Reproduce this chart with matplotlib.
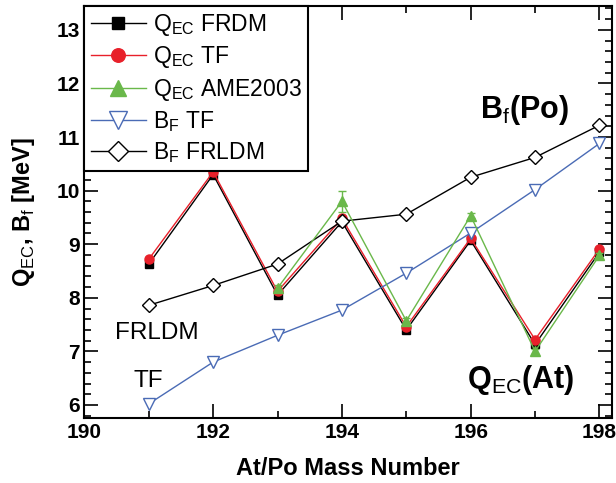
import matplotlib.pyplot as plt
from matplotlib.ticker import MultipleLocator

plt.rcParams['font.family'] = ['Liberation Sans', 'DejaVu Sans']
plt.rcParams['mathtext.fontset'] = 'custom'
plt.rcParams['mathtext.rm'] = 'Liberation Sans'
plt.rcParams['mathtext.bf'] = 'Liberation Sans:bold'

# Mass numbers
mass = [191, 192, 193, 194, 195, 196, 197, 198]

# Q_EC values for At
qec_frdm = [8.63, 10.30, 8.05, 9.42, 7.40, 9.07, 7.13, 8.85]
qec_tf = [8.72, 10.35, 8.12, 9.48, 7.46, 9.11, 7.22, 8.91]
mass_ame = [193, 194, 195, 196, 197, 198]
qec_ame = [8.18, 9.80, 7.57, 9.53, 7.00, 8.79]
qec_ame_err = [0.05, 0.20, 0.05, 0.05, 0.05, 0.05]

# Fission barriers for Po
bf_tf = [6.02, 6.80, 7.30, 7.77, 8.46, 9.21, 10.02, 10.88]
bf_frldm = [7.86, 8.23, 8.63, 9.43, 9.56, 10.25, 10.62, 11.22]

fig = plt.figure(figsize=(6.16, 4.83), dpi=100)
ax = fig.add_axes([0.137, 0.135, 0.857, 0.853])

h1, = ax.plot(mass, qec_frdm, '-s', color='black', lw=1, ms=6, label=r'Q$_{\mathrm{EC}}$ FRDM')
h2, = ax.plot(mass, qec_tf, '-o', color='#e8202a', lw=1, ms=6.5, label=r'Q$_{\mathrm{EC}}$ TF')
eb = ax.errorbar(mass_ame, qec_ame, yerr=qec_ame_err, fmt='-^', color='#6ab84a', lw=1, ms=7.5,
                 capsize=3, elinewidth=1)
h3 = eb[0]
h3.set_label(r'Q$_{\mathrm{EC}}$ AME2003')
h4, = ax.plot(mass, bf_tf, '-v', color='#4a6bb5', lw=1, ms=8.5, mfc='white', mew=1, label=r'B$_{\mathrm{F}}$ TF')
h5, = ax.plot(mass, bf_frldm, '-D', color='black', lw=1, ms=7, mfc='white', mew=1, label=r'B$_{\mathrm{F}}$ FRLDM')

ax.set_xlim(190, 198.2)
ax.set_ylim(5.76, 13.45)
ax.xaxis.set_major_locator(MultipleLocator(2))
ax.xaxis.set_minor_locator(MultipleLocator(1))
ax.yaxis.set_major_locator(MultipleLocator(1))
ax.yaxis.set_minor_locator(MultipleLocator(0.2))
ax.tick_params(which='both', direction='in', top=True, right=True, width=1.2)
ax.tick_params(which='major', length=10, labelsize=15)
ax.tick_params(which='minor', length=5)
for lab in ax.get_xticklabels() + ax.get_yticklabels():
    lab.set_fontweight('bold')
for s in ax.spines.values():
    s.set_linewidth(1.5)

ax.set_xlabel('At/Po Mass Number', fontsize=17, fontweight='bold')
ax.set_ylabel(r'$\mathbf{Q}_{\mathrm{EC}}$, $\mathbf{B}_{\mathrm{f}}$ [MeV]', fontsize=17, fontweight='bold')
ax.xaxis.set_label_coords(0.5, -0.095)
ax.yaxis.set_label_coords(-0.09, 0.5)

ax.text(196.15, 11.35, r'$\mathbf{B}_{\mathrm{f}}$(Po)', fontsize=22, fontweight='bold', ha='left', va='baseline')
ax.text(195.94, 6.32, r'$\mathbf{Q}_{\mathrm{EC}}$(At)', fontsize=22, fontweight='bold', ha='left', va='baseline')
ax.text(191.13, 7.34, 'FRLDM', fontsize=17.5, ha='center', va='center')
ax.text(190.99, 6.45, 'TF', fontsize=17.5, ha='center', va='center')

handles = [h1, h2, h3, h4, h5]
leg = ax.legend(handles, [h.get_label() for h in handles],
                loc='upper left', fontsize=16.5, borderaxespad=0, fancybox=False,
                framealpha=1, edgecolor='black', handlelength=2.4, labelspacing=0.27,
                handletextpad=0.3, borderpad=0.28, markerscale=1.5)
leg.get_frame().set_linewidth(1.5)

fig.savefig('out.png', dpi=100)
